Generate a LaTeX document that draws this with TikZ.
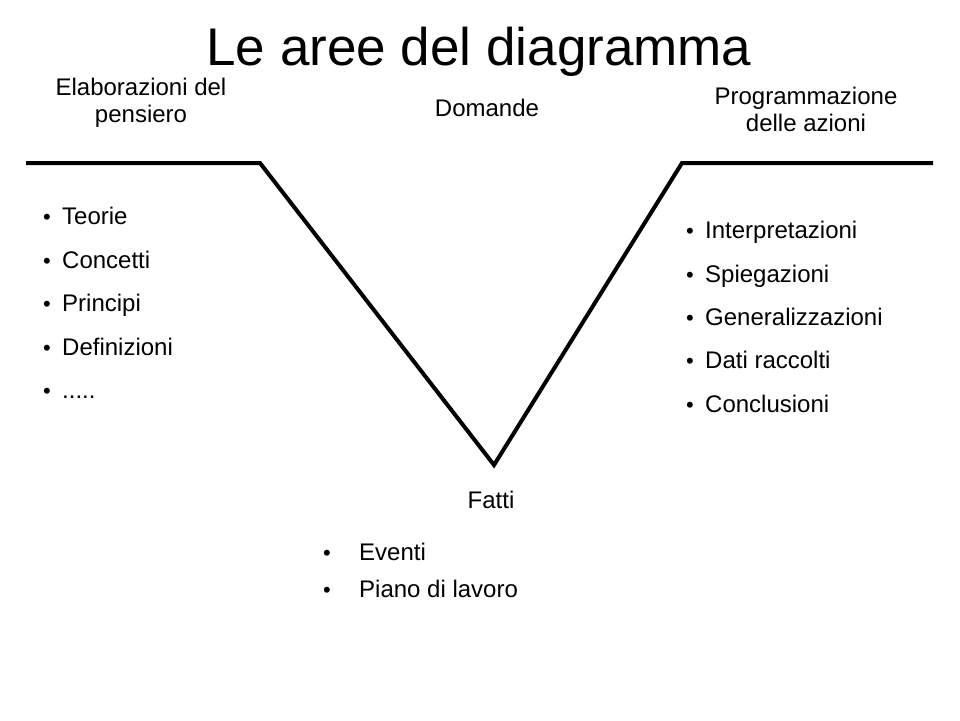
\documentclass[tikz,border=0pt]{standalone}
\usepackage{fontspec}
\setmainfont{Liberation Sans}
\begin{document}
\begin{tikzpicture}[x=1pt,y=-1pt,
  lbl/.style={inner sep=0pt,font=\fontsize{24}{27}\selectfont,align=center},
  itm/.style={inner sep=0pt,anchor=base west,font=\fontsize{24}{27}\selectfont},
  blt/.style={inner sep=0pt,anchor=base,font=\fontsize{22}{27}\selectfont},
  vline/.style={line width=4pt,line join=miter}]
\useasboundingbox[fill=white] (0,0) rectangle (960,720);
\node[inner sep=0pt,anchor=base,font=\fontsize{53}{60}\selectfont] (title) at (479,65) {Le aree del diagramma};
\node[lbl,anchor=base] (el) at (141,122) {Elaborazioni del\\pensiero};
\node[lbl,anchor=base] (dom) at (487,116) {Domande};
\node[lbl,anchor=base] (prog) at (806,131) {Programmazione\\delle azioni};
\node[lbl,anchor=base] (fatti) at (491,508) {Fatti};
\coordinate (a) at (26,163);
\coordinate (b) at (260,163);
\coordinate (c) at (494,465);
\coordinate (d) at (682,163);
\coordinate (e) at (933,163);
\draw[vline] (a) -- (b) -- (c) -- (d) -- (e);
% left list
\foreach \t/\y/\n in {Teorie/224/l1,Concetti/268/l2,Principi/311/l3,Definizioni/355/l4,{.....}/398/l5}{
  \node[blt] (b\n) at (47,\y) {\textbullet};
  \node[itm] (\n) at (62,\y) {\t};
}
% right list
\foreach \t/\y/\n in {Interpretazioni/238/r1,Spiegazioni/282/r2,Generalizzazioni/325/r3,Dati raccolti/368/r4,Conclusioni/412/r5}{
  \node[blt] (b\n) at (690,\y) {\textbullet};
  \node[itm] (\n) at (705,\y) {\t};
}
% bottom list
\foreach \t/\y/\n in {Eventi/560/f1,Piano di lavoro/597/f2}{
  \node[blt] (b\n) at (327,\y) {\textbullet};
  \node[itm] (\n) at (359,\y) {\t};
}
\end{tikzpicture}
\end{document}
